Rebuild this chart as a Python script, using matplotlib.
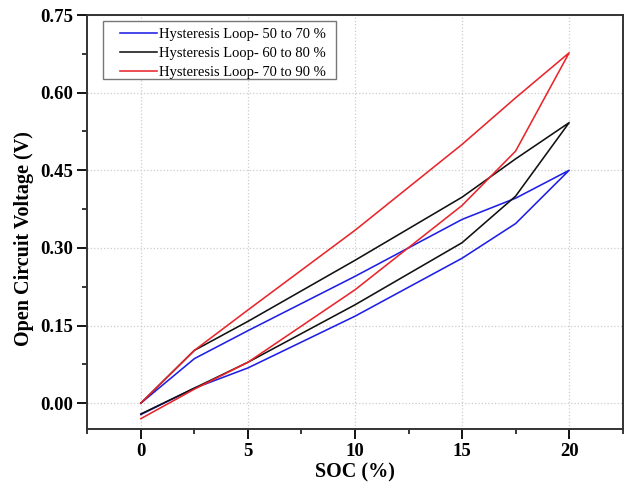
import numpy as np
import matplotlib.pyplot as plt
from matplotlib.ticker import MultipleLocator
from matplotlib.patches import Rectangle

plt.rcParams['font.family'] = ['Liberation Serif', 'DejaVu Serif']

# SOC steps within each loop
soc = np.array([0, 2.5, 5, 10, 15, 17.5, 20])

# Open circuit voltage, lower (charge) and upper (discharge) branches
ocv_50_70_low = [-0.022, 0.029, 0.068, 0.168, 0.280, 0.347, 0.450]
ocv_50_70_up = [0.000, 0.086, 0.140, 0.245, 0.355, 0.396, 0.450]
ocv_60_80_low = [-0.021, 0.029, 0.079, 0.190, 0.310, 0.400, 0.542]
ocv_60_80_up = [0.000, 0.102, 0.158, 0.276, 0.398, 0.472, 0.542]
ocv_70_90_low = [-0.030, 0.027, 0.079, 0.219, 0.382, 0.487, 0.677]
ocv_70_90_up = [0.000, 0.102, 0.180, 0.334, 0.500, 0.590, 0.677]

labels = ["Hysteresis Loop- 50 to 70 %",
          "Hysteresis Loop- 60 to 80 %",
          "Hysteresis Loop- 70 to 90 %"]
colors = ["#1f1fe6", "#111111", "#e8262b"]
loops = [(ocv_50_70_low, ocv_50_70_up),
         (ocv_60_80_low, ocv_60_80_up),
         (ocv_70_90_low, ocv_70_90_up)]

fig = plt.figure(figsize=(6.25, 4.84), dpi=100)
ax = fig.add_axes([0.1397, 0.1136, 0.8566, 0.8554])

for (low, up), c, lab in zip(loops, colors, labels):
    x = np.concatenate([soc, soc[::-1]])
    y = np.concatenate([low, up[::-1]])
    ax.plot(x, y, color=c, lw=1.15, label=lab, zorder=3)

ax.set_xlim(-2.5, 22.5)
ax.set_ylim(-0.05, 0.75)
ax.xaxis.set_major_locator(MultipleLocator(5))
ax.xaxis.set_minor_locator(MultipleLocator(2.5))
ax.yaxis.set_major_locator(MultipleLocator(0.15))
ax.yaxis.set_minor_locator(MultipleLocator(0.075))
ax.set_xticks([0, 5, 10, 15, 20])
ax.yaxis.set_major_formatter(plt.FormatStrFormatter('%.2f'))

ax.grid(True, which='major', ls=':', color='#cccccc', lw=0.9, zorder=0)
ax.tick_params(which='major', direction='out', length=7, width=1.3,
               labelsize=13.5, pad=3)
ax.tick_params(which='minor', direction='out', length=3.6, width=1.1)
for lbl in ax.get_xticklabels() + ax.get_yticklabels():
    lbl.set_fontweight('bold')
for s in ax.spines.values():
    s.set_linewidth(1.4)
    s.set_color('#333333')

ax.set_xlabel("SOC (%)", fontsize=14.5, fontweight='bold')
ax.set_ylabel("Open Circuit Voltage (V)", fontsize=14.5, fontweight='bold')
ax.xaxis.set_label_coords(0.5, -0.082)
ax.yaxis.set_label_coords(-0.10, 0.461)

# legend box drawn separately so the padding can differ per side
box = Rectangle((0.0293, 0.8454), 0.4352, 0.1401, transform=ax.transAxes,
                facecolor='white', edgecolor='#777777', lw=1.0, zorder=4)
ax.add_patch(box)
leg = ax.legend(loc='upper left', fontsize=10.5, frameon=False,
                handlelength=2.54, handletextpad=0.14, borderpad=0,
                labelspacing=0.4, borderaxespad=0,
                bbox_to_anchor=(0.061, 0.970))
leg.set_zorder(5)

fig.savefig("out.png", dpi=100)
